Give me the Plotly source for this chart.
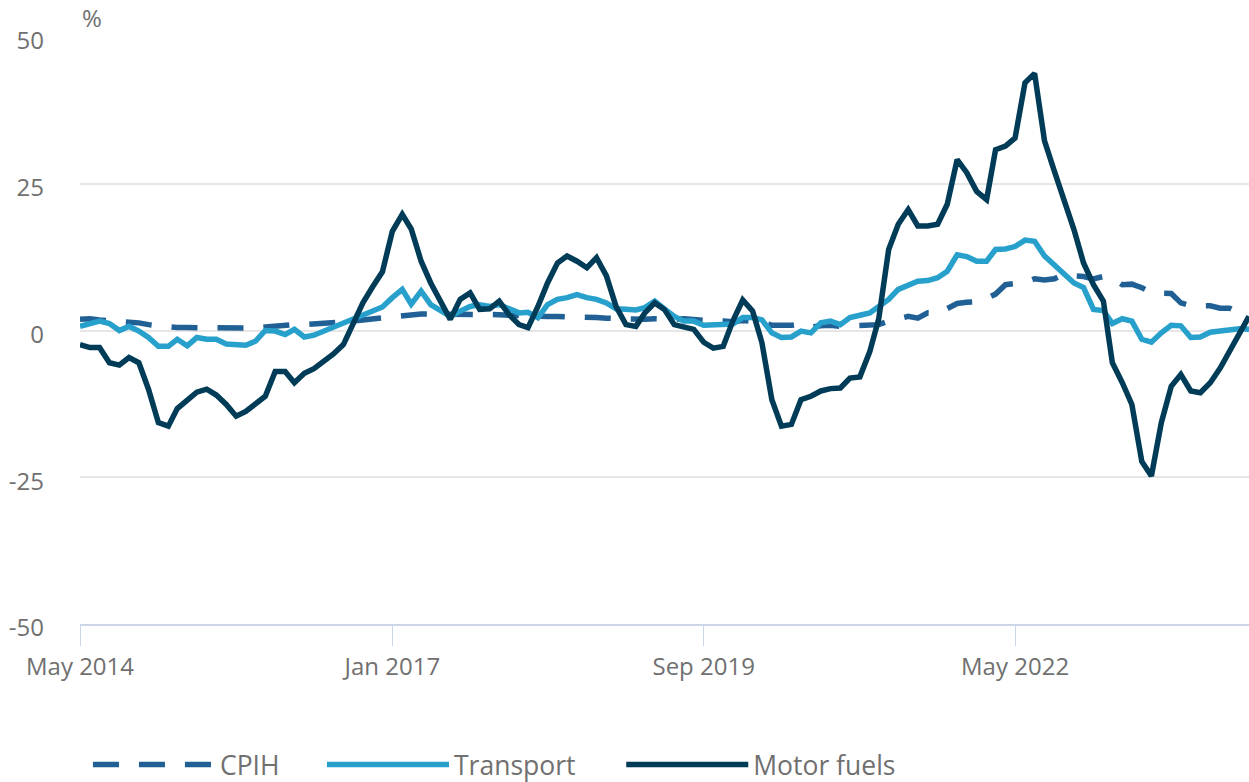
import pandas as pd
import plotly.graph_objects as go

months = pd.date_range("2014-05-01", periods=121, freq="MS")

cpih = [1.9, 2.0, 1.8, 1.7, 1.6, 1.5, 1.3, 1.0, 0.8, 0.6, 0.5, 0.5, 0.5, 0.5, 0.5, 0.4,
        0.3, 0.3, 0.4, 0.6, 0.8, 0.9, 1.0, 1.0, 1.1, 1.1, 1.2, 1.4, 1.6, 1.8, 2.0, 2.2,
        2.3, 2.5, 2.7, 2.8, 2.8, 2.8, 2.8, 2.9, 2.9, 2.9, 2.8, 2.7, 2.6, 2.5, 2.4, 2.4,
        2.4, 2.4, 2.4, 2.4, 2.3, 2.2, 2.1, 2.0, 1.9, 1.9, 1.9, 2.0, 1.9, 1.9, 2.0, 1.8,
        1.8, 1.6, 1.6, 1.5, 1.7, 1.6, 1.4, 0.9, 0.8, 0.9, 1.1, 0.6, 0.8, 0.9, 0.7, 0.8,
        0.9, 0.8, 1.0, 1.6, 2.1, 2.4, 2.1, 3.0, 2.9, 3.8, 4.6, 4.8, 4.9, 5.5, 6.2, 7.8,
        7.9, 8.2, 8.8, 8.6, 8.8, 9.6, 9.3, 9.2, 8.8, 9.2, 8.9, 7.8, 7.9, 7.3, 6.4, 6.3,
        6.3, 4.7, 4.2, 4.2, 4.2, 3.8, 3.8, 3.0, 2.8]

transport = [0.7, 1.2, 1.6, 1.2, 0.0, 0.7, -0.1, -1.2, -2.7, -2.7, -1.5, -2.6, -1.2, -1.5,
             -1.5, -2.3, -2.5, -2.5, -1.8, 0.0, -0.1, -0.7, 0.2, -1.1, -0.8, -0.1, 0.5, 1.1,
             1.9, 2.7, 3.2, 4.0, 5.6, 7.0, 4.5, 6.7, 4.4, 3.3, 2.4, 3.3, 4.1, 4.4, 4.1, 4.4,
             3.7, 3.0, 3.1, 2.2, 4.4, 5.3, 5.6, 6.1, 5.6, 5.3, 4.7, 3.7, 3.6, 3.5, 3.9, 5.0,
             3.7, 2.4, 1.6, 1.6, 0.9, 1.0, 1.0, 1.1, 2.2, 2.2, 1.8, -0.4, -1.2, -1.1, -0.1,
             -0.4, 1.3, 1.6, 1.0, 2.2, 2.6, 3.0, 4.1, 5.3, 7.0, 7.8, 8.4, 8.5, 9.0, 10.1,
             12.9, 12.6, 11.8, 11.8, 13.8, 13.9, 14.3, 15.4, 15.2, 12.7, 11.1, 9.5, 8.1,
             7.3, 3.6, 3.4, 1.2, 2.0, 1.6, -1.5, -2.0, -0.4, 0.9, 0.8, -1.2, -1.1, -0.3,
             -0.1, 0.2, 0.3, 0.2]

motor_fuels = [-2.4, -2.9, -2.9, -5.5, -5.9, -4.6, -5.5, -10.0, -15.7, -16.3, -13.3, -11.8,
               -10.5, -10.0, -11.0, -12.6, -14.6, -13.8, -12.6, -11.2, -7.0, -7.0, -8.9,
               -7.3, -6.5, -5.2, -4.0, -2.4, 1.4, 4.7, 7.5, 10.0, 16.9, 19.8, 17.3, 11.8,
               8.1, 4.7, 1.9, 5.3, 6.4, 3.6, 3.7, 5.0, 2.7, 1.0, 0.5, 4.1, 8.1, 11.5, 12.7,
               11.8, 10.7, 12.4, 9.3, 4.1, 1.0, 0.7, 3.0, 4.7, 3.6, 1.0, 0.5, 0.2, -2.0,
               -3.0, -2.7, 1.6, 5.2, 3.3, -2.1, -11.8, -16.3, -16.0, -11.8, -11.2, -10.3,
               -9.9, -9.8, -8.1, -7.9, -3.6, 2.0, 13.8, 18.1, 20.6, 17.8, 17.8, 18.1, 21.5,
               29.1, 26.9, 23.7, 22.3, 30.8, 31.4, 32.8, 42.2, 43.8, 32.3, 27.1, 22.3, 17.2,
               11.5, 7.8, 5.0, -5.5, -8.9, -12.6, -22.3, -24.8, -15.7, -9.5, -7.5, -10.3,
               -10.6, -8.9, -6.4, -3.5, -0.4, 2.4]

x_tick_vals = ["2014-05-01", "2017-01-01", "2019-09-01", "2022-05-01"]
x_tick_text = ["May 2014", "Jan 2017", "Sep 2019", "May 2022"]
y_tick_vals = [-50, -25, 0, 25, 50]
y_tick_text = ["-50", "-25", "0", "25", "50"]

TEXT = "#707070"
FONT = "Open Sans"
AXIS_FONT = dict(size=24, color=TEXT, family=FONT)
LEGEND_Y = -0.240


def legend_box(x):
    return dict(orientation="h", x=x, xanchor="left", y=LEGEND_Y, yanchor="middle",
                font=dict(size=26.5, color=TEXT, family=FONT), itemwidth=122,
                bgcolor="rgba(0,0,0,0)")


fig = go.Figure()
fig.add_trace(go.Scatter(x=months, y=cpih, name="CPIH", mode="lines", legend="legend",
                         line=dict(color="#206095", width=5.5, dash="26px,20px")))
fig.add_trace(go.Scatter(x=months, y=transport, name="Transport", mode="lines", legend="legend2",
                         line=dict(color="#27a0cc", width=5.5)))
fig.add_trace(go.Scatter(x=months, y=motor_fuels, name="Motor fuels", mode="lines", legend="legend3",
                         line=dict(color="#003c57", width=5.5)))

fig.update_layout(
    width=1249, height=782,
    margin=dict(l=80, r=0, t=37, b=158, autoexpand=False),
    plot_bgcolor="white", paper_bgcolor="white",
    font=dict(family=FONT, color=TEXT, size=24),
    showlegend=True,
    legend=legend_box(0.0068),
    legend2=legend_box(0.2070),
    legend3=legend_box(0.4630),
    xaxis=dict(type="date", range=["2014-05-01", "2024-05-01"],
               tickvals=x_tick_vals, ticktext=x_tick_text,
               ticks="outside", ticklen=20, tickcolor="#ccd6e8", tickwidth=1,
               showline=True, linecolor="#ccd6e8", linewidth=2,
               showgrid=False, zeroline=False, tickfont=AXIS_FONT),
    yaxis=dict(range=[-50, 50], tickvals=y_tick_vals, ticktext=y_tick_text,
               showgrid=True, gridcolor="#e6e6e6", gridwidth=2,
               zeroline=False, showline=False, ticks="",
               ticklabelstandoff=35, ticklabelshift=4, tickfont=AXIS_FONT),
    annotations=[dict(text="%", xref="paper", yref="paper", x=0, y=1,
                      xanchor="left", yanchor="bottom", yshift=1, showarrow=False,
                      font=AXIS_FONT)],
)

fig.write_html("out.html", config={"displayModeBar": False},
               post_script="document.body.style.margin='0px';")
